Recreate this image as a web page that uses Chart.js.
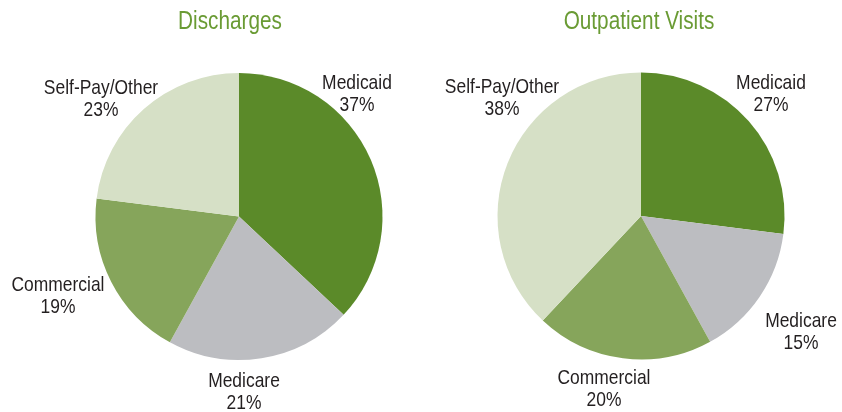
<!DOCTYPE html>
<html>
<head>
<meta charset="utf-8">
<script src="https://cdn.jsdelivr.net/npm/chart.js@4/dist/chart.umd.min.js"></script>
<style>
  html, body { margin: 0; padding: 0; background: #fff; }
  #wrap { position: relative; width: 842px; height: 412px; }
  canvas { position: absolute; top: 0; }
</style>
</head>
<body>
<div id="wrap">
  <canvas id="dischargeChart" width="421" height="412" style="left:0"></canvas>
  <canvas id="visitChart" width="421" height="412" style="left:421px"></canvas>
</div>
<script>
const categories = ['Medicaid', 'Medicare', 'Commercial', 'Self-Pay/Other'];
const dischargeValues = [37, 21, 19, 23];
const visitValues = [27, 15, 20, 38];
const sliceColors = ['#5b8a29', '#bcbdc1', '#86a55b', '#d6e0c6'];

// label placement: text centre x and first baseline, relative to pie centre
const dischargeLabelPos = [[118, -128], [5, 170], [-181, 74], [-138, -123]];
const visitLabelPos = [[130, -127], [160, 111], [-37, 168], [-139, -123]];

const FONT = "'Liberation Sans', Arial, sans-serif";
const SQUEEZE = 0.83; // fake a condensed face

function narrowText(ctx, text, x, y) {
    ctx.save();
    ctx.translate(x, y);
    ctx.scale(SQUEEZE, 1);
    ctx.fillText(text, 0, 0);
    ctx.restore();
}

const pieLabels = {
    id: 'pieLabels',
    afterDraw(chart, args, opts) {
        const ctx = chart.ctx;
        const arc = chart.getDatasetMeta(0).data[0];
        const cx = arc.x, cy = arc.y;
        ctx.save();
        ctx.textAlign = 'center';
        ctx.textBaseline = 'alphabetic';

        ctx.fillStyle = '#6a9b34';
        ctx.font = '25px ' + FONT;
        narrowText(ctx, opts.title, cx + opts.titleDx, 29);

        ctx.fillStyle = '#231f20';
        ctx.font = '21px ' + FONT;
        const values = chart.data.datasets[0].data;
        chart.data.labels.forEach((label, i) => {
            const [dx, dy] = opts.pos[i];
            narrowText(ctx, label, cx + dx, cy + dy);
            narrowText(ctx, values[i] + '%', cx + dx, cy + dy + 22);
        });
        ctx.restore();
    }
};

function makePie(id, values, title, titleDx, pos, padding) {
    const ctx = document.getElementById(id).getContext('2d');
    return new Chart(ctx, {
        type: 'pie',
        data: {
            labels: categories,
            datasets: [{
                data: values,
                backgroundColor: sliceColors,
                borderWidth: 0,
            }]
        },
        options: {
            responsive: false,
            animation: false,
            layout: { padding: padding },
            plugins: {
                legend: { display: false },
                tooltip: { enabled: false },
                pieLabels: { title: title, titleDx: titleDx, pos: pos }
            }
        },
        plugins: [pieLabels]
    });
}

makePie('dischargeChart', dischargeValues, 'Discharges', -9, dischargeLabelPos,
    { left: 95, right: 38, top: 73, bottom: 52 });
makePie('visitChart', visitValues, 'Outpatient Visits', -2, visitLabelPos,
    { left: 76.5, right: 57.5, top: 72.5, bottom: 52.5 });
</script>
</body>
</html>
